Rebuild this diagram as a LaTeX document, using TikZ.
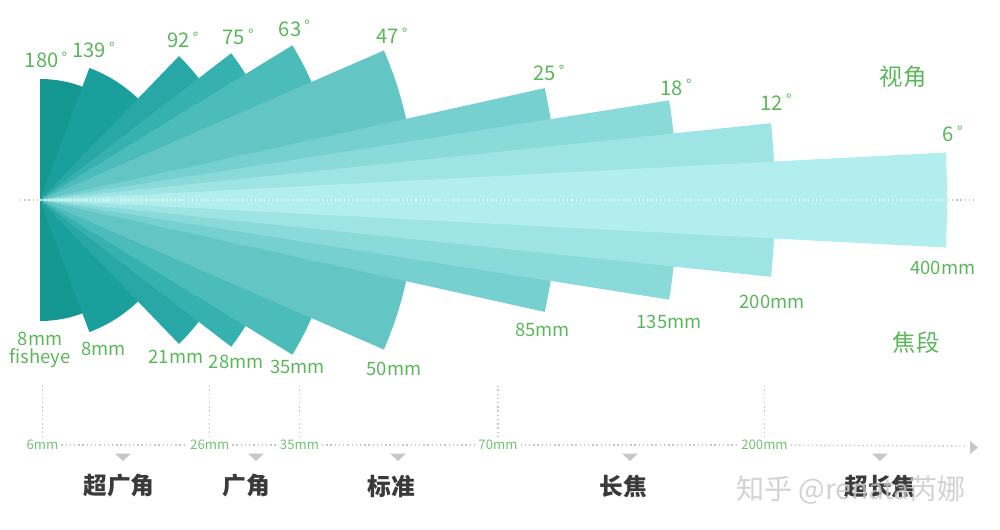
\documentclass[tikz,border=0pt]{standalone}
\usepackage{fontspec}
\setmainfont{Noto Sans CJK SC}
\usepackage{tikz}
\usetikzlibrary{positioning}
\definecolor{fanA}{HTML}{149691}
\definecolor{fanB}{HTML}{1B9F9C}
\definecolor{fanC}{HTML}{27A8A7}
\definecolor{fanD}{HTML}{35B1B0}
\definecolor{fanE}{HTML}{4CBCBB}
\definecolor{fanF}{HTML}{63C6C5}
\definecolor{fanG}{HTML}{76D0D0}
\definecolor{fanH}{HTML}{8ADADA}
\definecolor{fanI}{HTML}{9EE4E4}
\definecolor{fanJ}{HTML}{B2EEEE}
\definecolor{lblGreen}{HTML}{5BB65B}
\definecolor{tickGreen}{HTML}{72C272}
\definecolor{catInk}{HTML}{3A3A3A}
\definecolor{dotGray}{gray}{0.78}
\definecolor{markGray}{gray}{0.78}
\newcommand\dg{\kern1.8pt\raisebox{2.4pt}{\fontsize{8.5}{8.5}\selectfont °}}
\tikzset{
  deglab/.style  = {font=\fontsize{11.5}{12}\selectfont, text=lblGreen, inner sep=0pt},
  mmlab/.style   = {font=\fontsize{10.5}{10.5}\selectfont, text=lblGreen, inner sep=0pt,
                    align=center},
  keylab/.style  = {font=\fontsize{13.3}{14}\selectfont, text=lblGreen, inner sep=0pt},
  ticklab/.style = {font=\fontsize{7.5}{8}\selectfont, text=tickGreen, inner sep=1.5pt},
  catlab/.style  = {font=\bfseries\fontsize{13.5}{14}\selectfont, text=catInk, inner sep=0pt},
  axdot/.style   = {draw=dotGray, line width=0.8pt, dash pattern=on 0.8pt off 1.6pt},
  fandot/.style  = {draw=white, opacity=0.7, line width=0.8pt, dash pattern=on 0.8pt off 1.6pt},
  tipfill/.style = {fill=markGray},
}

\begin{document}
\begin{tikzpicture}[x=0.02cm, y=0.02cm]
  \useasboundingbox (-40,-329) rectangle (960,200);
  \coordinate (lens) at (0,0);
  \draw[axdot] (-20,0) -- (935,0);
  % fan of view angles, widest first
  \foreach \h/\r/\c/\n in {90/121/fanA/a, 69.5/141/fanB/b, 46/200/fanC/c,
      37.5/241/fanD/d, 31.5/296/fanE/e, 23.5/375/fanF/f, 12.5/517/fanG/g,
      9/637/fanH/h, 6/735/fanI/i, 3/907/fanJ/j}{%
    \fill[\c] (lens) -- (\h:\r) arc[start angle=\h, end angle=-\h, radius=\r] -- cycle;
    \coordinate (up-\n) at (\h:\r);
    \coordinate (lo-\n) at (-\h:\r);}
  \draw[fandot] (lens) -- (905,0);

  \node[deglab] (d180) at ([shift={(6,19)}]up-a) {180\dg};
  \node[deglab] (d139) at ([shift={(4,18)}]up-b) {139\dg};
  \node[deglab] (d92)  at ([shift={(4,16)}]up-c) {92\dg};
  \node[deglab] (d75)  at ([shift={(7,16)}]up-d) {75\dg};
  \node[deglab] (d63)  at ([shift={(2,17)}]up-e) {63\dg};
  \node[deglab] (d47)  at ([shift={(8,15)}]up-f) {47\dg};
  \node[deglab] (d25)  at ([shift={(4,15)}]up-g) {25\dg};
  \node[deglab] (d18)  at ([shift={(7,13)}]up-h) {18\dg};
  \node[deglab] (d12)  at ([shift={(5,21)}]up-i) {12\dg};
  \node[deglab] (d6)   at ([shift={(7,19)}]up-j) {6\dg};

  \node[mmlab] (mfish) at ([shift={(0,-29)}]lo-a)  {8mm\\fisheye};
  \node[mmlab] (m8)    at ([shift={(14,-17)}]lo-b) {8mm};
  \node[mmlab] (m21)   at ([shift={(-3,-13)}]lo-c) {21mm};
  \node[mmlab] (m28)   at ([shift={(5,-15)}]lo-d)  {28mm};
  \node[mmlab] (m35)   at ([shift={(5,-12)}]lo-e)  {35mm};
  \node[mmlab] (m50)   at ([shift={(10,-19)}]lo-f) {50mm};
  \node[mmlab] (m85)   at ([shift={(-2,-18)}]lo-g) {85mm};
  \node[mmlab] (m135)  at ([shift={(0,-22)}]lo-h)  {135mm};
  \node[mmlab] (m200)  at ([shift={(1,-25)}]lo-i)  {200mm};
  \node[mmlab] (m400)  at ([shift={(-3,-20)}]lo-j) {400mm};

  \node[keylab] (kview)  at (863,123)  {视角};
  \node[keylab] (kfocal) at (876,-143) {焦段};

  % focal length scale
  \coordinate (vtop)  at (0,-186);
  \coordinate (axend) at (926,-246);
  \node[ticklab] (t6)   at (2.5,-245)   {6mm};
  \node[ticklab] (t26)  at (169.7,-245) {26mm};
  \node[ticklab] (t35)  at (259.5,-245) {35mm};
  \node[ticklab] (t70)  at (458,-245)   {70mm};
  \node[ticklab] (t200) at (724.5,-245) {200mm};
  \draw[axdot] (t6) -- (t26);
  \draw[axdot] (t26) -- (t35);
  \draw[axdot] (t35) -- (t70);
  \draw[axdot] (t70) -- (t200);
  \draw[axdot] (t200) -- (axend);
  \foreach \t in {t6,t26,t35,t70,t200}
    \draw[axdot] (\t.north) -- (\t.north |- vtop);
  \fill[tipfill] (930,-241) -- (938,-247.5) -- (930,-254) -- cycle;
  \foreach \x in {83,216,358,590,840}
    \fill[tipfill] (\x-8,-253.5) -- (\x+8,-253.5) -- (\x,-261) -- cycle;

  \node[catlab] (cuw)  at (79,-286)  {超广角};
  \node[catlab] (cw)   at (206,-286) {广角};
  \node[catlab] (cstd) at (351,-286) {标准};
  \node[catlab] (ctel) at (583,-286) {长焦};
  \node[catlab] (cutl) at (840,-286) {超长焦};
  \node[font=\fontsize{16}{16}\selectfont, text=black!22, opacity=0.8, inner sep=0pt]
    (wmark) at (811,-290) {知乎 @renata芮娜};
\end{tikzpicture}
\end{document}
